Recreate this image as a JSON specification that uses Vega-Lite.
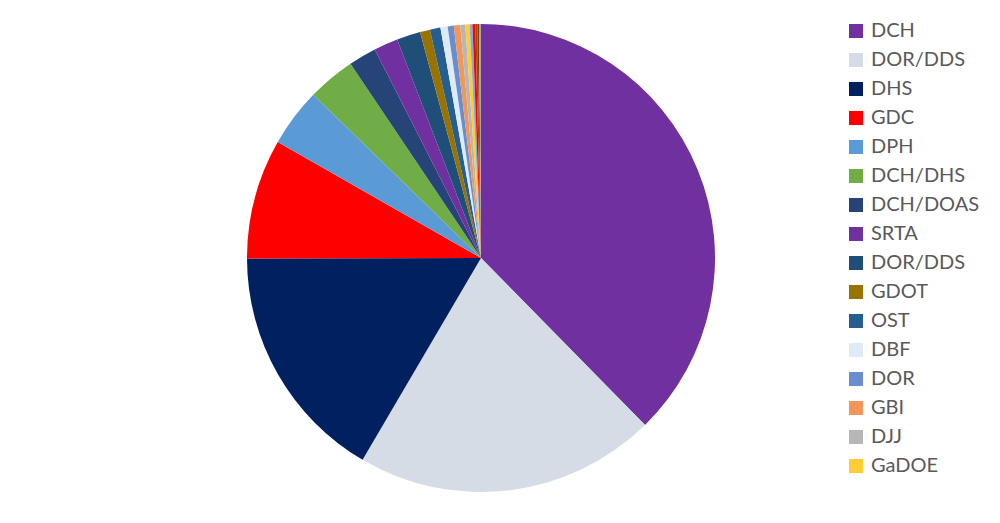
{
  "$schema": "https://vega.github.io/schema/vega-lite/v6.json",
  "autosize": "none",
  "width": 962,
  "height": 516,
  "padding": {"left": 0, "top": 0, "right": 38, "bottom": 7},
  "background": "white",
  "config": {"view": {"stroke": null}},
  "data": {
    "values": [
      {"idx": 1, "agency": "DCH", "share": 135.5},
      {"idx": 2, "agency": "DOR/DDS", "share": 74.9},
      {"idx": 3, "agency": "DHS", "share": 59.5},
      {"idx": 4, "agency": "GDC", "share": 29.8},
      {"idx": 5, "agency": "DPH", "share": 14.5},
      {"idx": 6, "agency": "DCH/DHS", "share": 11.9},
      {"idx": 7, "agency": "DCH/DOAS", "share": 6.9},
      {"idx": 8, "agency": "SRTA", "share": 6.0},
      {"idx": 9, "agency": "DOR/DDS (2)", "share": 5.9},
      {"idx": 10, "agency": "GDOT", "share": 2.5},
      {"idx": 11, "agency": "OST", "share": 2.6},
      {"idx": 12, "agency": "DBF", "share": 1.8},
      {"idx": 13, "agency": "DOR", "share": 1.5},
      {"idx": 14, "agency": "GBI", "share": 1.6},
      {"idx": 15, "agency": "DJJ", "share": 1.25},
      {"idx": 16, "agency": "GaDOE", "share": 1.05},
      {"idx": 17, "agency": "Other 1", "share": 0.7},
      {"idx": 18, "agency": "Other 2", "share": 0.7},
      {"idx": 19, "agency": "Other 3", "share": 0.5},
      {"idx": 20, "agency": "Other 4", "share": 0.4},
      {"idx": 21, "agency": "Other 5", "share": 0.5}
    ]
  },
  "mark": {"type": "arc", "outerRadius": 234},
  "encoding": {
    "theta": {"field": "share", "type": "quantitative", "stack": true},
    "order": {"field": "idx", "type": "quantitative", "sort": "ascending"},
    "color": {
      "field": "agency",
      "type": "nominal",
      "scale": {
        "domain": ["DCH", "DOR/DDS", "DHS", "GDC", "DPH", "DCH/DHS", "DCH/DOAS", "SRTA", "DOR/DDS (2)", "GDOT", "OST", "DBF", "DOR", "GBI", "DJJ", "GaDOE", "Other 1", "Other 2", "Other 3", "Other 4", "Other 5"],
        "range": ["#7030A0", "#D6DCE5", "#002060", "#FF0000", "#5B9BD5", "#70AD47", "#264478", "#7030A0", "#1F4E79", "#997300", "#255E91", "#DEEBF7", "#698ED0", "#F1975A", "#B7B7B7", "#FFCD33", "#7CAFDD", "#FF0000", "#9E480E", "#843C0C", "#A5A5A5"]
      },
      "legend": {
        "orient": "none",
        "legendX": 846,
        "legendY": 21,
        "title": null,
        "values": ["DCH", "DOR/DDS", "DHS", "GDC", "DPH", "DCH/DHS", "DCH/DOAS", "SRTA", "DOR/DDS (2)", "GDOT", "OST", "DBF", "DOR", "GBI", "DJJ", "GaDOE"],
        "labelExpr": "replace(datum.label, ' (2)', '')",
        "symbolType": "square",
        "symbolSize": 196,
        "symbolStrokeWidth": 0,
        "labelFont": "Lato",
        "labelFontSize": 20,
        "labelColor": "#595959",
        "labelOffset": 5,
        "rowPadding": 9,
        "labelLimit": 200
      }
    }
  }
}
